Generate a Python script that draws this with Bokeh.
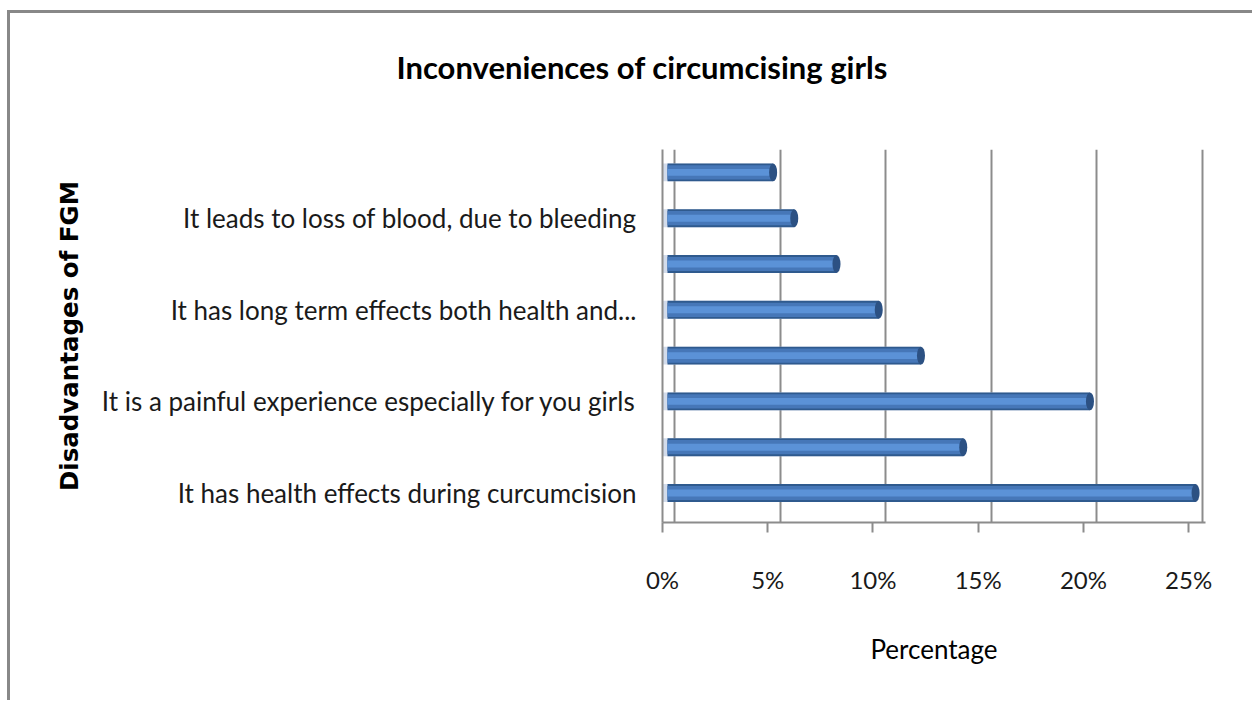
from bokeh.plotting import figure
from bokeh.models import (Range1d, LinearAxis, Grid, FixedTicker, Title,
                          PrintfTickFormatter, ColumnDataSource)
from bokeh.embed import file_html
from bokeh.resources import INLINE

# ---- data (bottom to top) ----
labels = [
    "It has health effects during curcumcision",
    None,
    "It is a painful experience especially for you girls",
    None,
    "It has long term effects both health and...",
    None,
    "It leads to loss of blood, due to bleeding",
    None,
]
values = [25, 14, 20, 12, 10, 8, 6, 5]
x_ticks = [0, 5, 10, 15, 20, 25]
title_text = "Inconveniences of circumcising girls"

positions = list(range(1, len(values) + 1))
src = ColumnDataSource(dict(y=positions, v=values))

FONT = "Lato"
GRAY = "#8c8c8c"

W, H = 1245, 690
p = figure(width=W, height=H, output_backend="svg", toolbar_location=None,
           x_range=Range1d(-0.237, 25.47), y_range=Range1d(0.356, 8.5),
           x_axis_location=None,
           min_border_left=652, min_border_right=W - 1195, min_border_top=136,
           min_border_bottom=H - 509)
p.styles = {"border-left": "3px solid #888888", "border-top": "3px solid #888888",
            "margin-top": "10px", "margin-left": "7px"}
p.outline_line_color = None
p.background_fill_color = "white"
p.border_fill_color = "white"
p.xgrid.visible = False
p.ygrid.visible = False

# back plane (grid) and front plane (axis) ranges
p.extra_x_ranges = {"back": Range1d(-0.568, 25.14), "front": Range1d(0, 25.8)}

grid = Grid(dimension=0, ticker=FixedTicker(ticks=x_ticks), x_range_name="back",
            grid_line_color=GRAY, grid_line_width=2)
p.add_layout(grid)

xaxis = LinearAxis(x_range_name="front", ticker=FixedTicker(ticks=x_ticks),
                   formatter=PrintfTickFormatter(format="%d%%"))
xaxis.axis_line_color = GRAY
xaxis.axis_line_width = 2
xaxis.major_tick_line_color = GRAY
xaxis.major_tick_line_width = 2
xaxis.major_tick_out = 10
xaxis.major_tick_in = 0
xaxis.minor_tick_line_color = None
xaxis.major_label_text_font = FONT
xaxis.major_label_text_font_size = "24px"
xaxis.major_label_text_color = "#1a1a1a"
xaxis.major_label_standoff = 32
xaxis.axis_label = "Percentage"
xaxis.axis_label_text_font = FONT
xaxis.axis_label_text_font_size = "26px"
xaxis.axis_label_text_font_style = "normal"
xaxis.axis_label_text_color = "black"
xaxis.axis_label_standoff = 36
p.add_layout(xaxis, "below")

yaxis = p.yaxis[0]
shown = [pos for pos, lab in zip(positions, labels) if lab]
yaxis.ticker = FixedTicker(ticks=shown)
yaxis.major_label_overrides = {pos: lab for pos, lab in zip(positions, labels) if lab}
yaxis.axis_line_color = GRAY
yaxis.axis_line_width = 2
yaxis.major_tick_line_color = None
yaxis.minor_tick_line_color = None
yaxis.major_label_text_font = FONT
yaxis.major_label_text_font_size = "26px"
yaxis.major_label_text_color = "#1a1a1a"
yaxis.major_label_standoff = 20
yaxis.axis_label = "Disadvantages of FGM"
yaxis.axis_label_text_font = "DejaVu Sans"
yaxis.axis_label_text_font_size = "24.5px"
yaxis.axis_label_text_font_style = "bold"
yaxis.axis_label_text_color = "black"
yaxis.axis_label_standoff = 15

# bars: pale shadow, dark base, mid tone, highlight, end cap
p.hbar(y="y", left=-0.25, right="v", height=0.39, source=src,
       fill_color="#d3dceb", line_color=None)
p.hbar(y="y", left=0, right="v", height=0.39, source=src,
       fill_color="#2f5a8e", line_color=None)
p.hbar(y="y", left=0, right="v", height=0.31, source=src,
       fill_color="#4677b8", line_color=None)
p.hbar(y="y", left=0, right="v", height=0.15, source=src,
       fill_color="#5b92d7", line_color=None)
p.ellipse(x="v", y="y", width=0.38, height=0.39, source=src,
          fill_color="#2c5183", line_color=None)

# main title (outermost) and a thin spacer panel next to the frame
p.title.text = title_text
p.title.align = "left"
p.title.offset = -266
p.title.standoff = 65
p.title.text_font = FONT
p.title.text_font_size = "31px"
p.title.text_font_style = "bold"
p.title.text_color = "black"
spacer = Title(text=" ", text_font_size="2px", standoff=27)
p.add_layout(spacer, "above")

open("out.html", "w").write(file_html(p, INLINE))
